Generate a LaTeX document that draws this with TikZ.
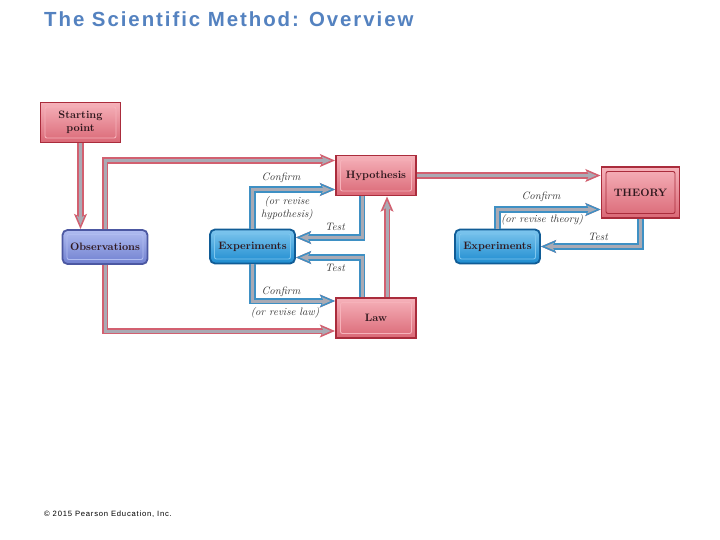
\documentclass[tikz,border=0pt]{standalone}
\usepackage{fontspec}
\usetikzlibrary{arrows.meta}
\newfontfamily\titlefont[LetterSpace=9.5]{Liberation Sans}
\newfontfamily\notefont[LetterSpace=10]{Liberation Sans}
\definecolor{titleBlue}{RGB}{84,130,192}
\definecolor{boxRed}{RGB}{218,104,118}
\definecolor{boxRedLight}{RGB}{246,178,186}
\definecolor{boxRedDark}{RGB}{170,44,60}
\definecolor{obsBlue}{RGB}{112,128,208}
\definecolor{obsBlueLight}{RGB}{176,188,240}
\definecolor{obsBlueDark}{RGB}{76,88,162}
\definecolor{expBlue}{RGB}{30,140,208}
\definecolor{expBlueLight}{RGB}{126,198,238}
\definecolor{expBlueDark}{RGB}{16,92,150}
\definecolor{arrowPink}{RGB}{210,96,112}
\definecolor{arrowCyan}{RGB}{62,144,196}
\definecolor{arrowGray}{RGB}{170,170,180}
\definecolor{labelGray}{RGB}{56,56,56}
\definecolor{boxText}{RGB}{48,24,30}

\begin{document}
\begin{tikzpicture}[x=1bp, y=-1bp,
    bevel/.style={path picture={\draw[draw=#1, line width=0.9bp, rounded corners=2bp]
        ([shift={(4.5bp,-4.5bp)}]path picture bounding box.north west) rectangle
        ([shift={(-4.5bp,4.5bp)}]path picture bounding box.south east);}},
    redbox/.style={draw=boxRedDark, line width=1.8bp, top color=boxRedLight, bottom color=boxRed,
        bevel=boxRedLight, minimum width=80bp, minimum height=40bp, inner sep=0pt, align=center,
        text=boxText, font=\fontsize{10.8}{12.5}\selectfont\bfseries},
    obsbox/.style={redbox, draw=obsBlueDark, top color=obsBlueLight, bottom color=obsBlue,
        bevel=obsBlueLight, rounded corners=5bp, minimum width=85bp, minimum height=34bp},
    expbox/.style={redbox, draw=expBlueDark, top color=expBlueLight, bottom color=expBlue,
        bevel=expBlueLight, rounded corners=5bp, minimum width=85bp, minimum height=34bp},
    theorybox/.style={redbox, bevel=boxRedDark, minimum width=78bp, minimum height=51bp},
    redarrow/.style={draw=arrowGray, line width=3bp, shorten >=4.2bp,
        -{Stealth[length=9bp,width=7.5bp,inset=2bp]},
        preaction={draw=arrowPink, line width=6.5bp, shorten >=0bp,
        -{Stealth[length=15bp,width=12.5bp,inset=3bp]}}},
    bluearrow/.style={redarrow, preaction={draw=arrowCyan, line width=6.5bp, shorten >=0bp,
        -{Stealth[length=15bp,width=12.5bp,inset=3bp]}}},
    lbl/.style={inner sep=0pt, align=center, text=labelGray, font=\fontsize{10.8}{13}\selectfont\itshape}]

    \fill[white] (0,0) rectangle (720,540);
    \useasboundingbox (0,0) rectangle (720,540);

    % title and credit
    \node[anchor=base west, inner sep=0pt, text=titleBlue,
        font=\titlefont\bfseries\fontsize{20.5}{23}\selectfont] (title) at (44,26.5) {The Scientific Method: Overview};
    \node[anchor=base west, inner sep=0pt, font=\notefont\fontsize{7.7}{9}\selectfont] (credit) at (44,516) {© 2015 Pearson Education, Inc.};

    % boxes
    \node[redbox] (start) at (80.5,122.5) {Starting\\point};
    \node[obsbox] (obs) at (105,247) {Observations};
    \node[redbox] (hyp) at (376,175.5) {Hypothesis};
    \node[expbox] (exp1) at (252.5,246.5) {Experiments};
    \node[redbox] (law) at (376,318) {Law};
    \node[theorybox] (theory) at (640.5,192.5) {THEORY};
    \node[expbox] (exp2) at (497.5,246.5) {Experiments};

    % red arrows
    \draw[redarrow] (start.south) -- (start.south |- obs.north);
    \draw[redarrow] (obs.north) |- ([yshift=15bp]hyp.west);
    \draw[redarrow] (obs.south) |- ([yshift=-13bp]law.west);
    \draw[redarrow] ([xshift=11bp]law.north) -- ([xshift=11bp]hyp.south);
    \draw[redarrow] (hyp.east) -- (hyp.east -| theory.west);

    % blue arrows
    \draw[bluearrow] (exp1.north) |- ([yshift=-14bp]hyp.west);
    \draw[bluearrow] ([xshift=-14bp]hyp.south) |- ([yshift=9bp]exp1.east);
    \draw[bluearrow] ([xshift=-14bp]law.north) |- ([yshift=-11bp]exp1.east);
    \draw[bluearrow] (exp1.south) |- ([yshift=17bp]law.west);
    \draw[bluearrow] (exp2.north) |- ([yshift=-17bp]theory.west);
    \draw[bluearrow] (theory.south) |- (exp2.east);

    % labels
    \node[lbl] (confirmH) at (281,178) {Confirm};
    \node[lbl] (reviseH) at (287,208) {(or revise\\hypothesis)};
    \node[lbl] (testH) at (335,227) {Test};
    \node[lbl] (testL) at (335,268) {Test};
    \node[lbl] (confirmL) at (281,292) {Confirm};
    \node[lbl] (reviseL) at (285,313) {(or revise law)};
    \node[lbl] (confirmT) at (541,197) {Confirm};
    \node[lbl] (reviseT) at (542,220) {(or revise theory)};
    \node[lbl] (testT) at (598,237) {Test};

\end{tikzpicture}
\end{document}
